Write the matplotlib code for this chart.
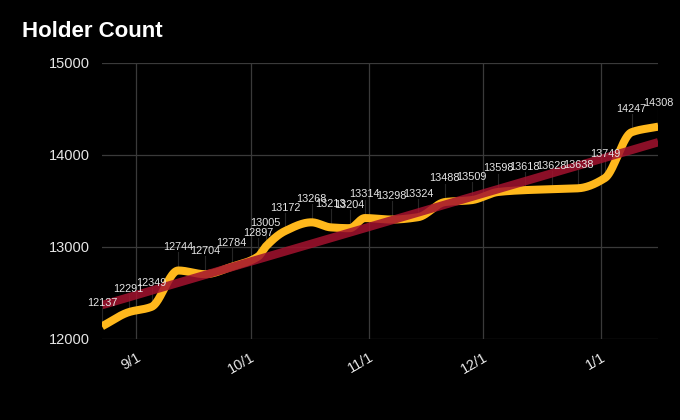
import numpy as np
import pandas as pd
import matplotlib
matplotlib.use("Agg")
import matplotlib.pyplot as plt
import matplotlib.dates as mdates

plt.rcParams["font.family"] = ["Liberation Sans", "DejaVu Sans"]

# weekly-ish holder snapshots
DATES = ["2022-08-23", "2022-08-30", "2022-09-05", "2022-09-12", "2022-09-19",
         "2022-09-26", "2022-10-03", "2022-10-05", "2022-10-10", "2022-10-17",
         "2022-10-22", "2022-10-27", "2022-10-31", "2022-11-07", "2022-11-14",
         "2022-11-21", "2022-11-28", "2022-12-05", "2022-12-12", "2022-12-19",
         "2022-12-26", "2023-01-02", "2023-01-09", "2023-01-16"]
HOLDERS = [12137, 12291, 12349, 12744, 12704, 12784, 12897, 13005, 13172, 13268,
           13213, 13204, 13314, 13298, 13324, 13488, 13509, 13598, 13618, 13628,
           13638, 13749, 14247, 14308]

TICK_DATES = ["2022-09-01", "2022-10-01", "2022-11-01", "2022-12-01", "2023-01-01"]
TICK_LABELS = ["9/1", "10/1", "11/1", "12/1", "1/1"]

C_LINE = "#ffb81c"
C_TREND = "#a3122e"
C_GRID = "#3a3a3a"
C_TEXT = "#e6e6e6"


def monotone_cubic(x, y, n=40):
    # Fritsch-Carlson monotone interpolation (like d3 curveMonotoneX)
    x = np.asarray(x, float)
    y = np.asarray(y, float)
    h = np.diff(x)
    d = np.diff(y) / h
    m = np.zeros_like(y)
    m[0], m[-1] = d[0], d[-1]
    for i in range(1, len(y) - 1):
        if d[i - 1] * d[i] <= 0:
            m[i] = 0
        else:
            w1 = 2 * h[i] + h[i - 1]
            w2 = h[i] + 2 * h[i - 1]
            m[i] = (w1 + w2) / (w1 / d[i - 1] + w2 / d[i])
    xs, ys = [], []
    for i in range(len(h)):
        t = np.linspace(0, 1, n, endpoint=False)
        h00 = 2 * t**3 - 3 * t**2 + 1
        h10 = t**3 - 2 * t**2 + t
        h01 = -2 * t**3 + 3 * t**2
        h11 = t**3 - t**2
        xs.append(x[i] + t * h[i])
        ys.append(h00 * y[i] + h10 * h[i] * m[i] + h01 * y[i + 1] + h11 * h[i] * m[i + 1])
    xs.append([x[-1]])
    ys.append([y[-1]])
    return np.concatenate(xs), np.concatenate(ys)


dates = pd.to_datetime(DATES)
xnum = mdates.date2num(dates)
vals = np.array(HOLDERS)

fig = plt.figure(figsize=(6.8, 4.2), dpi=100, facecolor="black")
ax = fig.add_axes([0.15, 0.193, 0.818, 0.657], facecolor="black")

sx, sy = monotone_cubic(xnum, vals)

# faint drop lines from each point up to its label
for xv, yv in zip(xnum, vals):
    ax.plot([xv, xv], [yv, yv + 200], color="#262626", lw=0.8, zorder=1)

ax.plot(sx, sy, color=C_LINE, lw=5.8, solid_capstyle="butt", zorder=3)

coef = np.polyfit(xnum, vals, 1)
tx = np.array([xnum[0], xnum[-1]])
ax.plot(tx, np.polyval(coef, tx), color=C_TREND, lw=6, alpha=0.85,
        solid_capstyle="butt", zorder=4)

for xv, yv in zip(xnum, vals):
    ax.annotate(f"{yv}", (xv, yv), xytext=(0, 17), textcoords="offset points",
                ha="center", va="center", fontsize=7.8, color=C_TEXT, zorder=5)

ax.set_xlim(xnum[0], xnum[-1])
ax.set_ylim(12000, 15000)
ax.set_yticks([12000, 13000, 14000, 15000])
ax.set_xticks(mdates.date2num(pd.to_datetime(TICK_DATES)))
ax.set_xticklabels(TICK_LABELS, rotation=30, ha="right", rotation_mode="anchor")
ax.tick_params(colors=C_TEXT, labelsize=10.5, length=0, pad=9)
ax.tick_params(axis="x", pad=8)
ax.grid(True, color=C_GRID, lw=0.9)
ax.set_axisbelow(True)
for s in ax.spines.values():
    s.set_visible(False)

fig.text(0.032, 0.925, "Holder Count", color="white", fontsize=16,
         fontweight="bold", ha="left", va="center")

fig.savefig("out.png", dpi=100, facecolor="black")
